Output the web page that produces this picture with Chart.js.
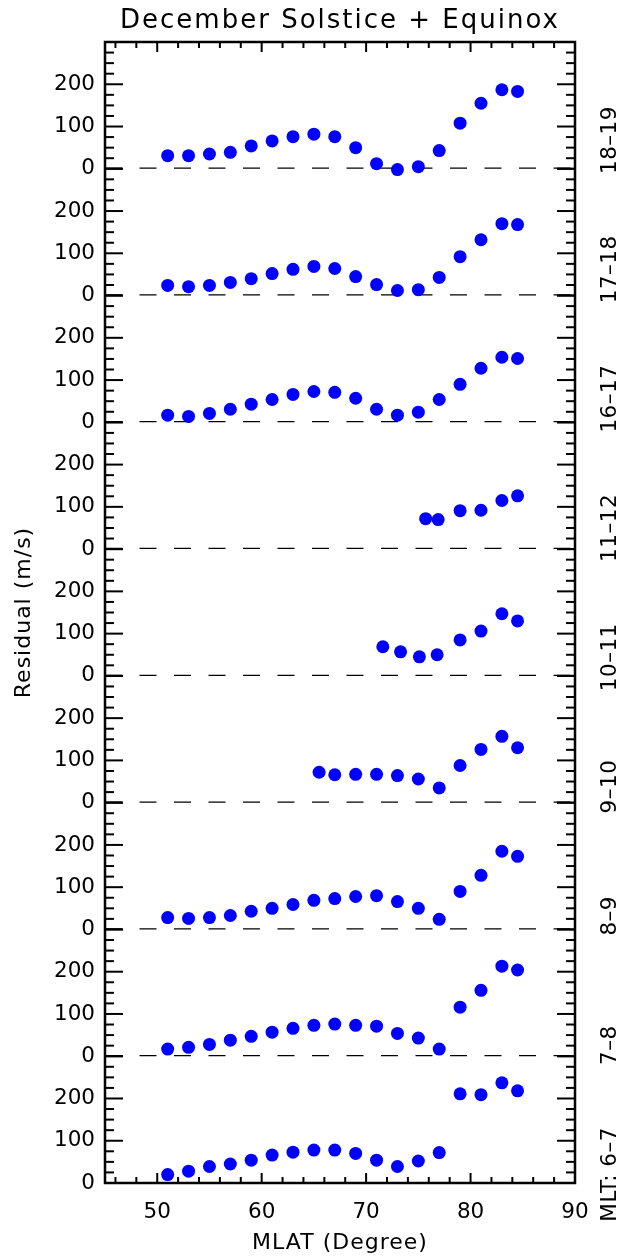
<!DOCTYPE html>
<html>
<head>
<meta charset="utf-8">
<script src="https://cdn.jsdelivr.net/npm/chart.js@4"></script>
<style>
  html, body { margin: 0; padding: 0; background: #fff; }
  #wrap { width: 624px; height: 1260px; }
</style>
</head>
<body>
<div id="wrap"><canvas id="chart" width="624" height="1260"></canvas></div>
<script>
// residual vs MLAT, one panel per MLT sector (top to bottom)
const mltLabels = ['18–19', '17–18', '16–17', '11–12', '10–11', '9–10', '8–9', '7–8', 'MLT: 6–7']

const mlatFull = [51, 53, 55, 57, 59, 61, 63, 65, 67, 69, 71, 73, 75, 77, 79, 81, 83, 84.5]
const res1819 = [31, 31, 35, 39, 54, 66, 76, 82, 76, 50, 12, -2, 5, 43, 108, 155, 187, 183]
const res1718 = [24, 21, 24, 31, 40, 52, 62, 69, 64, 45, 26, 12, 14, 43, 92, 132, 170, 168]
const res1617 = [17, 14, 21, 31, 43, 54, 66, 73, 71, 57, 31, 17, 24, 54, 90, 128, 154, 151]
const mlat1112 = [75.7, 76.9, 79, 81, 83, 84.5]
const res1112 = [72, 70, 91, 92, 115, 126]
const mlat1011 = [71.6, 73.3, 75.1, 76.8, 79, 81, 83, 84.5]
const res1011 = [69, 57, 45, 50, 85, 106, 147, 130]
const mlat910 = [65.5, 67, 69, 71, 73, 75, 77, 79, 81, 83, 84.5]
const res910 = [72, 66, 67, 67, 64, 56, 35, 88, 126, 157, 130]
const res89 = [28, 26, 28, 33, 43, 50, 59, 69, 73, 78, 80, 66, 50, 24, 90, 128, 185, 173]
const res78 = [17, 21, 28, 38, 47, 57, 66, 73, 76, 73, 71, 54, 43, 17, 116, 156, 213, 204]
const res67 = [20, 28, 39, 45, 54, 66, 73, 78, 78, 70, 54, 39, 52, 72, 211, 209, 237, 218]

const xTicks = [50, 60, 70, 80, 90]
const yTicks = [0, 100, 200]

const panels = [
    { x: mlatFull, y: res1819 },
    { x: mlatFull, y: res1718 },
    { x: mlatFull, y: res1617 },
    { x: mlat1112, y: res1112 },
    { x: mlat1011, y: res1011 },
    { x: mlat910, y: res910 },
    { x: mlatFull, y: res89 },
    { x: mlatFull, y: res78 },
    { x: mlatFull, y: res67 },
]

Chart.defaults.font.family = 'DejaVu Sans'
Chart.defaults.font.size = 21.5
Chart.defaults.color = '#000'

const scales = {
    x: {
        type: 'linear',
        position: 'bottom',
        min: 45,
        max: 90,
        afterBuildTicks: (s) => { s.ticks = xTicks.map(value => ({ value })) },
        afterFit: (s) => { s.height = 77 },
        grid: { display: false, drawTicks: false },
        border: { display: false },
        ticks: { padding: 17, maxRotation: 0 }
    }
}
// stacked scales are laid out bottom-up, so add the lowest panel first
for (let i = panels.length - 1; i >= 0; i--) {
    scales['y' + i] = {
        type: 'linear',
        position: 'left',
        stack: 'mlt',
        stackWeight: 1,
        min: 0,
        max: 300,
        afterBuildTicks: (s) => { s.ticks = yTicks.map(value => ({ value })) },
        afterFit: (s) => { s.width = 105 },
        grid: { display: false, drawTicks: false },
        border: { display: false },
        ticks: { padding: 10, autoSkip: false }
    }
}

const datasets = []
panels.forEach((p, i) => {
    datasets.push({
        type: 'scatter',
        data: p.x.map((x, j) => ({ x, y: p.y[j] })),
        xAxisID: 'x',
        yAxisID: 'y' + i,
        pointRadius: 6.5,
        pointHoverRadius: 6.5,
        backgroundColor: '#0000ff',
        borderWidth: 0,
        clip: false,
        order: 1
    })
    if (i < panels.length - 1) {
        datasets.push({
            type: 'line',
            data: [{ x: 45, y: 0 }, { x: 90, y: 0 }],
            xAxisID: 'x',
            yAxisID: 'y' + i,
            borderColor: '#000',
            borderWidth: 2.5,
            borderDash: [17, 17.5],
            pointRadius: 0,
            order: 2
        })
    }
})

// IDL-style box: inward ticks on all four sides, plus the text around it
const frame = {
    id: 'frame',
    afterDraw(chart) {
        const { ctx, chartArea: a } = chart
        const seg = (x1, y1, x2, y2) => {
            ctx.beginPath()
            ctx.moveTo(x1, y1)
            ctx.lineTo(x2, y2)
            ctx.stroke()
        }
        ctx.save()
        ctx.strokeStyle = '#000'
        ctx.lineWidth = 2

        const xs = chart.scales.x
        for (let v = 46; v < 90; v += 2) {
            const px = xs.getPixelForValue(v)
            const len = v % 10 === 0 ? 10 : 6
            seg(px, a.bottom, px, a.bottom - len)
            seg(px, a.top, px, a.top + len)
        }
        panels.forEach((p, i) => {
            const s = chart.scales['y' + i]
            for (let v = 0; v <= 300; v += 25) {
                const py = s.getPixelForValue(v)
                const len = v % 100 === 0 ? 18 : 9
                seg(a.left, py, a.left + len, py)
                seg(a.right, py, a.right - len, py)
            }
        })
        ctx.lineWidth = 2.5
        ctx.strokeRect(a.left, a.top, a.right - a.left, a.bottom - a.top)

        ctx.fillStyle = '#000'
        ctx.textAlign = 'center'
        ctx.textBaseline = 'alphabetic'
        ctx.font = '26px "DejaVu Sans"'
        ctx.letterSpacing = '2px'
        ctx.fillText('December Solstice + Equinox', (a.left + a.right) / 2, 28)

        ctx.font = '22px "DejaVu Sans"'
        ctx.letterSpacing = '1px'
        ctx.fillText('MLAT (Degree)', (a.left + a.right) / 2, 1249)

        ctx.textBaseline = 'middle'
        ctx.save()
        ctx.translate(24, (a.top + a.bottom) / 2)
        ctx.rotate(-Math.PI / 2)
        ctx.fillText('Residual (m/s)', 0, 0)
        ctx.restore()

        ctx.font = '21.5px "DejaVu Sans"'
        ctx.letterSpacing = '0.5px'
        mltLabels.forEach((label, i) => {
            ctx.save()
            ctx.translate(610, a.top + 98 + i * 129.3)
            ctx.rotate(-Math.PI / 2)
            ctx.fillText(label, 0, 0)
            ctx.restore()
        })
        ctx.restore()
    }
}

new Chart(document.getElementById('chart').getContext('2d'), {
    type: 'scatter',
    data: { datasets },
    options: {
        responsive: false,
        animation: false,
        layout: { padding: { top: 42, left: 0, right: 49, bottom: 0 } },
        plugins: { legend: { display: false }, tooltip: { enabled: false } },
        scales
    },
    plugins: [frame]
})
</script>
</body>
</html>
